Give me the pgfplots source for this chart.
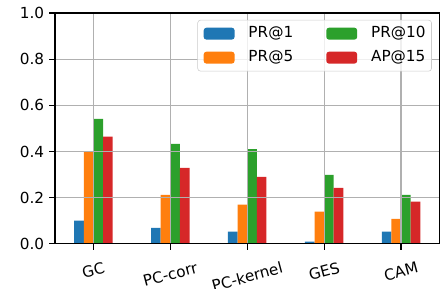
\documentclass[border=0pt]{standalone}
\usepackage{pgfplots}
\pgfplotsset{compat=1.18}
\usepackage{fontspec}
\setmainfont{DejaVu Sans}
\definecolor{c0}{HTML}{1F77B4}
\definecolor{c1}{HTML}{FF7F0E}
\definecolor{c2}{HTML}{2CA02C}
\definecolor{c3}{HTML}{D62728}
\definecolor{gridc}{HTML}{B0B0B0}
\begin{document}
\begin{tikzpicture}
\path[use as bounding box] (-39.6pt,-32.4pt) rectangle (277.56pt,175.7pt);
\begin{axis}[
  at={(0,0)}, anchor=south west,
  scale only axis, width=277.2pt, height=166.32pt,
  xmin=-0.5, xmax=4.5, ymin=0, ymax=1,
  xtick={0,1,2,3,4},
  xticklabels={\rotatebox{15}{GC},\rotatebox{15}{PC-corr},\rotatebox{15}{PC-kernel},\rotatebox{15}{GES},\rotatebox{15}{CAM}},
  ytick={0,0.2,0.4,0.6,0.8,1.0},
  yticklabel style={/pgf/number format/fixed, /pgf/number format/fixed zerofill, /pgf/number format/precision=1, /tikz/font=\fontsize{11}{13}\selectfont},
  /pgf/number format/assume math mode=true,
  xticklabel style={anchor=north, font=\fontsize{11}{13}\selectfont, inner sep=0pt, yshift=-8.5pt},
  tick align=outside, tick pos=left,
  major tick length=4.2pt,
  every tick/.style={black, line width=0.88pt},
  axis line style={line width=0.88pt},
  grid=major,
  major grid style={gridc, line width=0.88pt},
  axis on top,
  ybar, bar width=0.125,
  legend columns=2,
  transpose legend,
  legend cell align=left,
  legend style={at={(0.98,0.97)}, anchor=north east, draw=black!20, rounded corners=2pt,
    fill=white, fill opacity=0.8, text opacity=1, font=\fontsize{11}{13}\selectfont,
    inner xsep=4.3pt, inner ysep=4.5pt,
    nodes={inner xsep=0pt, inner ysep=0pt, text height=8.2pt, text depth=2.2pt},
    row sep=6.9pt,
    /tikz/every even column/.append style={column sep=23.8pt},
    /tikz/every odd column/.append style={column sep=10pt}},
  legend image code/.code={\fill[#1, fill opacity=1] (0pt,-4.3pt) rectangle (22.3pt,4.3pt);},
]
\addplot[fill=c0, draw=none, bar shift=-0.1875] coordinates {(0,0.10) (1,0.069) (2,0.052) (3,0.009) (4,0.052)};
\addplot[fill=c1, draw=none, bar shift=-0.0625] coordinates {(0,0.40) (1,0.212) (2,0.169) (3,0.139) (4,0.108)};
\addplot[fill=c2, draw=none, bar shift=0.0625] coordinates {(0,0.541) (1,0.433) (2,0.41) (3,0.299) (4,0.212)};
\addplot[fill=c3, draw=none, bar shift=0.1875] coordinates {(0,0.464) (1,0.329) (2,0.29) (3,0.242) (4,0.182)};
\legend{PR@1,PR@5,PR@10,AP@15}
\end{axis}
\end{tikzpicture}
\end{document}
